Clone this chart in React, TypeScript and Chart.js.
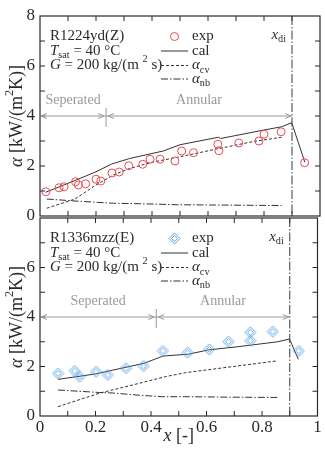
import React, { useEffect, useRef } from 'react';
import { Chart, registerables } from 'chart.js';

Chart.register(...registerables);

// ---- R1224yd(Z) ----
const expX1 = [0.021, 0.068, 0.086, 0.127, 0.137, 0.163, 0.2, 0.217, 0.257, 0.283, 0.317, 0.367, 0.393, 0.429, 0.482, 0.506, 0.548, 0.635, 0.639, 0.71, 0.782, 0.8, 0.861, 0.945];
const expY1 = [0.97, 1.13, 1.17, 1.37, 1.24, 1.29, 1.47, 1.4, 1.72, 1.76, 2.01, 2.07, 2.27, 2.27, 2.2, 2.6, 2.53, 2.87, 2.61, 2.92, 3.0, 3.27, 3.37, 2.13];
const calX1 = [0.02, 0.125, 0.2, 0.256, 0.32, 0.44, 0.5, 0.637, 0.645, 0.8, 0.863, 0.899, 0.946];
const calY1 = [0.95, 1.42, 1.77, 2.08, 2.3, 2.6, 2.85, 3.15, 3.1, 3.44, 3.57, 3.73, 2.15];
const cvX1 = [0.024, 0.125, 0.2, 0.262, 0.32, 0.4, 0.5, 0.631, 0.762, 0.863];
const cvY1 = [0.31, 0.68, 1.24, 1.64, 1.9, 2.15, 2.37, 2.68, 2.98, 3.15];
const nbX1 = [0.024, 0.125, 0.262, 0.4, 0.49, 0.863];
const nbY1 = [0.68, 0.6, 0.51, 0.48, 0.45, 0.42];
const regime1 = 0.236;

// ---- R1336mzz(E) ----
const expX2 = [0.065, 0.125, 0.143, 0.202, 0.244, 0.31, 0.373, 0.443, 0.532, 0.61, 0.679, 0.758, 0.758, 0.839, 0.932];
const expY2 = [1.72, 1.82, 1.59, 1.79, 1.66, 1.93, 2.02, 2.63, 2.56, 2.69, 3.0, 3.38, 3.04, 3.41, 2.63];
const calX2 = [0.065, 0.2, 0.31, 0.375, 0.443, 0.536, 0.607, 0.714, 0.857, 0.899, 0.931];
const calY2 = [1.48, 1.7, 1.97, 2.13, 2.42, 2.5, 2.67, 2.8, 3.0, 3.11, 2.29];
const cvX2 = [0.065, 0.214, 0.357, 0.452, 0.524, 0.69, 0.857];
const cvY2 = [0.38, 0.92, 1.32, 1.59, 1.75, 1.99, 2.23];
const nbX2 = [0.065, 0.214, 0.262, 0.357, 0.44, 0.52, 0.69, 0.857];
const nbY2 = [1.05, 0.95, 0.93, 0.84, 0.78, 0.78, 0.76, 0.75];
const regime2 = 0.419;

// shared
const xDryout = 0.9;
const regimeY = 4;
const yTickStep = 2;
const xTickStep = 0.2;
const regimeLabels = ['Seperated', 'Annular'];
const legendLabels = ['exp', 'cal', 'cv', 'nb'];

const FONT = '"Liberation Serif", "Times New Roman", serif';
const INK = '#2a2a2a';
const GREY = '#9a9a9a';
const RED = '#ec4b4f';
const BLUE = '#5aa2e6';

type Part = { t: string; it?: boolean; sub?: boolean; sup?: boolean };

const pts = (xs: number[], ys: number[]) => xs.map((x, i) => ({ x, y: ys[i] }));

function richWidth(ctx: CanvasRenderingContext2D, parts: Part[], size: number) {
  let w = 0;
  for (const p of parts) {
    const s = p.sub || p.sup ? size * 0.68 : size;
    ctx.font = `${p.it ? 'italic ' : ''}${s}px ${FONT}`;
    w += ctx.measureText(p.t).width;
  }
  return w;
}

function drawRich(ctx: CanvasRenderingContext2D, parts: Part[], x: number, y: number, size: number, color: string, align: 'left' | 'center' | 'right' = 'left') {
  const w = richWidth(ctx, parts, size);
  let cx = align === 'left' ? x : align === 'center' ? x - w / 2 : x - w;
  ctx.save();
  ctx.fillStyle = color;
  ctx.textBaseline = 'middle';
  ctx.textAlign = 'left';
  for (const p of parts) {
    const s = p.sub || p.sup ? size * 0.68 : size;
    ctx.font = `${p.it ? 'italic ' : ''}${s}px ${FONT}`;
    const dy = p.sub ? size * 0.3 : p.sup ? -size * 0.38 : 0;
    ctx.fillText(p.t, cx, y + dy);
    cx += ctx.measureText(p.t).width;
  }
  ctx.restore();
}

function makeDiamond(): HTMLCanvasElement {
  const c = document.createElement('canvas');
  c.width = 13;
  c.height = 13;
  const g = c.getContext('2d')!;
  g.strokeStyle = BLUE;
  g.lineWidth = 1;
  for (const r of [5.5, 3]) {
    g.beginPath();
    g.moveTo(6.5, 6.5 - r);
    g.lineTo(6.5 + r, 6.5);
    g.lineTo(6.5, 6.5 + r);
    g.lineTo(6.5 - r, 6.5);
    g.closePath();
    g.stroke();
  }
  return c;
}

type PanelCfg = {
  fluid: string;
  regime: number;
  marker: 'circle' | HTMLCanvasElement;
  showXTitle: boolean;
};

function decorPlugin(cfg: PanelCfg) {
  return {
    id: 'panelDecor',
    afterDraw(chart: any) {
      const ctx: CanvasRenderingContext2D = chart.ctx;
      const a = chart.chartArea;
      const xs = chart.scales.x;
      const ys = chart.scales.y;
      ctx.save();

      // frame
      ctx.strokeStyle = INK;
      ctx.lineWidth = 1.2;
      ctx.strokeRect(a.left, a.top, a.right - a.left, a.bottom - a.top);

      // inward ticks on all four sides
      ctx.lineWidth = 1;
      ctx.beginPath();
      for (let v = 1; v < 8; v++) {
        const py = ys.getPixelForValue(v);
        ctx.moveTo(a.left, py); ctx.lineTo(a.left + 5, py);
        ctx.moveTo(a.right, py); ctx.lineTo(a.right - 5, py);
      }
      for (let i = 1; i < 10; i++) {
        const px = xs.getPixelForValue(i / 10);
        ctx.moveTo(px, a.bottom); ctx.lineTo(px, a.bottom - 5);
        ctx.moveTo(px, a.top); ctx.lineTo(px, a.top + 5);
      }
      ctx.stroke();

      // dryout quality line
      const xd = xs.getPixelForValue(xDryout);
      ctx.strokeStyle = '#3a3a3a';
      ctx.setLineDash([9, 2, 1.5, 2]);
      ctx.beginPath();
      ctx.moveTo(xd, a.top); ctx.lineTo(xd, a.bottom);
      ctx.stroke();
      ctx.setLineDash([]);
      drawRich(ctx, [{ t: 'x', it: true }, { t: 'di', sub: true }], xd - 6, a.top + 19, 15, INK, 'right');

      // flow regime bar
      const x0 = xs.getPixelForValue(0);
      const xr = xs.getPixelForValue(cfg.regime);
      const yr = ys.getPixelForValue(regimeY);
      ctx.strokeStyle = GREY;
      ctx.lineWidth = 1;
      ctx.beginPath();
      ctx.moveTo(x0, yr); ctx.lineTo(xd, yr);
      ctx.moveTo(xr, yr - 8); ctx.lineTo(xr, yr + 11);
      const head = (tip: number, dir: number) => {
        ctx.moveTo(tip - dir * 6, yr - 2.5); ctx.lineTo(tip, yr); ctx.lineTo(tip - dir * 6, yr + 2.5);
      };
      head(x0 + 1, -1);
      head(xr - 2, 1);
      head(xr + 2, -1);
      head(xd - 1, 1);
      ctx.stroke();
      ctx.fillStyle = GREY;
      ctx.font = `14px ${FONT}`;
      ctx.textAlign = 'center';
      ctx.textBaseline = 'middle';
      ctx.fillText(regimeLabels[0], (x0 + xr) / 2, yr - 16);
      ctx.fillText(regimeLabels[1], (xr + xd) / 2, yr - 16);

      // condition text
      const rows = [a.top + 20.5, a.top + 35, a.top + 49.5, a.top + 63];
      const tx = a.left + 10;
      drawRich(ctx, [{ t: cfg.fluid }], tx, rows[0], 15, INK);
      drawRich(ctx, [{ t: 'T', it: true }, { t: 'sat', sub: true }, { t: ' = 40 °C' }], tx, rows[1], 15, INK);
      drawRich(ctx, [{ t: 'G', it: true }, { t: ' = 200 kg/(m ' }, { t: '2', sup: true }, { t: ' s)' }], tx, rows[2], 15, INK);

      // legend
      const ds = chart.data.datasets;
      const lx0 = 161, lx1 = 188, ltx = 192;
      if (cfg.marker === 'circle') {
        ctx.strokeStyle = RED;
        ctx.lineWidth = 1;
        ctx.beginPath();
        ctx.arc((lx0 + lx1) / 2, rows[0], 4, 0, Math.PI * 2);
        ctx.stroke();
      } else {
        ctx.drawImage(cfg.marker, (lx0 + lx1) / 2 - 6.5, rows[0] - 6.5);
      }
      drawRich(ctx, [{ t: legendLabels[0] }], ltx, rows[0], 15, INK);
      for (let i = 1; i < 4; i++) {
        const d = ds[i];
        ctx.strokeStyle = d.borderColor;
        ctx.lineWidth = 1;
        ctx.setLineDash(d.borderDash || []);
        ctx.beginPath();
        ctx.moveTo(lx0, rows[i]); ctx.lineTo(lx1, rows[i]);
        ctx.stroke();
        ctx.setLineDash([]);
      }
      drawRich(ctx, [{ t: legendLabels[1] }], ltx, rows[1], 15, INK);
      drawRich(ctx, [{ t: 'α', it: true }, { t: legendLabels[2], sub: true }], ltx, rows[2], 15, INK);
      drawRich(ctx, [{ t: 'α', it: true }, { t: legendLabels[3], sub: true }], ltx, rows[3], 15, INK);

      // y axis title
      ctx.save();
      ctx.translate(17, (a.top + a.bottom) / 2);
      ctx.rotate(-Math.PI / 2);
      drawRich(ctx, [{ t: 'α', it: true }, { t: ' [kW/(m' }, { t: '2', sup: true }, { t: 'K)]' }], 0, 0, 18, INK, 'center');
      ctx.restore();

      // x axis title
      if (cfg.showXTitle) {
        drawRich(ctx, [{ t: 'x', it: true }, { t: ' [-]' }], xs.getPixelForValue(0.5), a.bottom + 20, 18, INK, 'center');
      }
      ctx.restore();
    },
  };
}

function buildChart(canvas: HTMLCanvasElement, opts: {
  ex: number[]; ey: number[]; cx: number[]; cy: number[]; vx: number[]; vy: number[]; nx: number[]; ny: number[];
  cfg: PanelCfg; bottom: boolean;
}) {
  const tickFont = { family: FONT, size: 17 };
  const isCircle = opts.cfg.marker === 'circle';
  return new Chart(canvas, {
    type: 'scatter',
    data: {
      datasets: [
        {
          label: 'exp', data: pts(opts.ex, opts.ey),
          pointStyle: opts.cfg.marker as any,
          pointRadius: isCircle ? 4 : 6.5,
          borderColor: isCircle ? RED : BLUE,
          backgroundColor: 'rgba(0,0,0,0)',
          borderWidth: 1,
        },
        { label: 'cal', data: pts(opts.cx, opts.cy), showLine: true, pointRadius: 0, borderColor: '#333', borderWidth: 1 },
        { label: 'cv', data: pts(opts.vx, opts.vy), showLine: true, pointRadius: 0, borderColor: '#333', borderWidth: 1, borderDash: [3, 2] },
        { label: 'nb', data: pts(opts.nx, opts.ny), showLine: true, pointRadius: 0, borderColor: '#333', borderWidth: 1, borderDash: [7, 2, 1.5, 2] },
      ] as any,
    },
    options: {
      animation: false,
      responsive: false,
      maintainAspectRatio: false,
      events: [],
      layout: { padding: opts.bottom ? { top: 18, right: 5, bottom: 0, left: 0 } : { top: 16, right: 5, bottom: 20, left: 0 } },
      plugins: { legend: { display: false }, tooltip: { enabled: false } },
      scales: {
        x: {
          type: 'linear', min: 0, max: 1,
          display: opts.bottom,
          grid: { display: false, drawTicks: false },
          border: { display: false },
          ticks: {
            stepSize: xTickStep, font: tickFont, color: INK, padding: 1, maxRotation: 0,
            callback: (v: any) => String(Math.round(Number(v) * 10) / 10),
          },
          afterFit: (s: any) => { if (opts.bottom) s.height = 43; },
        },
        y: {
          min: 0, max: 8,
          grid: { display: false, drawTicks: false },
          border: { display: false },
          ticks: {
            stepSize: yTickStep, font: tickFont, color: INK, padding: 5,
            callback: (v: any) => (opts.bottom && Number(v) === 8 ? '' : String(v)),
          },
          afterFit: (s: any) => { s.width = 40; },
        },
      },
    } as any,
    plugins: [decorPlugin(opts.cfg)],
  });
}

export default function App() {
  const topRef = useRef<HTMLCanvasElement>(null);
  const botRef = useRef<HTMLCanvasElement>(null);

  useEffect(() => {
    const diamond = makeDiamond();
    const c1 = buildChart(topRef.current!, {
      ex: expX1, ey: expY1, cx: calX1, cy: calY1, vx: cvX1, vy: cvY1, nx: nbX1, ny: nbY1,
      cfg: { fluid: 'R1224yd(Z)', regime: regime1, marker: 'circle', showXTitle: false }, bottom: false,
    });
    const c2 = buildChart(botRef.current!, {
      ex: expX2, ey: expY2, cx: calX2, cy: calY2, vx: cvX2, vy: cvY2, nx: nbX2, ny: nbY2,
      cfg: { fluid: 'R1336mzz(E)', regime: regime2, marker: diamond, showXTitle: true }, bottom: true,
    });
    return () => { c1.destroy(); c2.destroy(); };
  }, []);

  return (
    <div style={{ position: 'absolute', left: 0, top: 0, width: 325, height: 459, background: '#fff' }}>
      <canvas ref={topRef} width={325} height={236} style={{ position: 'absolute', left: 0, top: 0, display: 'block' }} />
      <canvas ref={botRef} width={325} height={259} style={{ position: 'absolute', left: 0, top: 200, display: 'block' }} />
    </div>
  );
}
